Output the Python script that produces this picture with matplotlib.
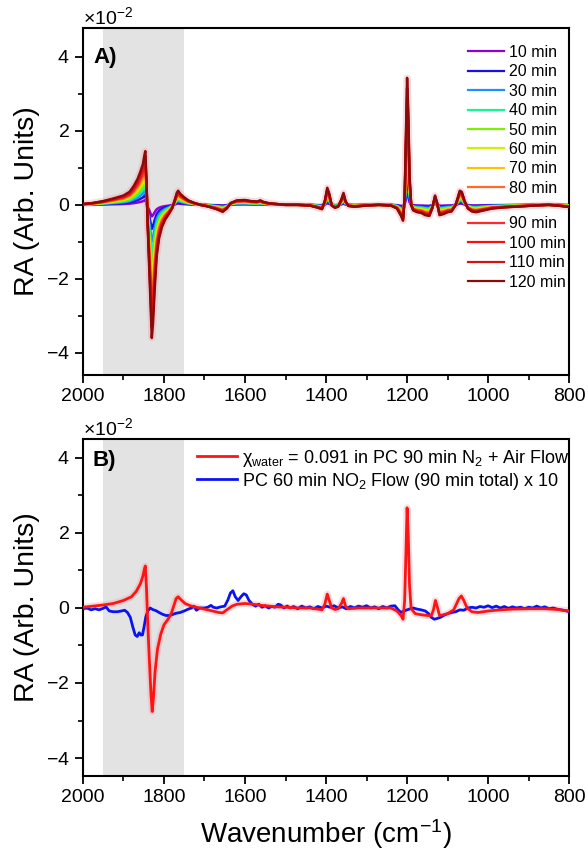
import numpy as np
import matplotlib
matplotlib.use("Agg")
import matplotlib.pyplot as plt
from matplotlib.ticker import MultipleLocator, ScalarFormatter
from matplotlib.lines import Line2D

plt.rcParams['font.family'] = ['Liberation Sans', 'DejaVu Sans']
plt.rcParams['mathtext.fontset'] = 'custom'
plt.rcParams['mathtext.rm'] = 'Liberation Sans'
plt.rcParams['mathtext.it'] = 'Liberation Sans:italic'
plt.rcParams['mathtext.bf'] = 'Liberation Sans:bold'

# ---- panel A: 120 min spectrum (values x10^-2) ----
wn_a = [2000, 1975, 1950, 1925, 1900, 1885, 1875, 1865, 1858, 1852, 1848, 1846, 1843, 1840,
        1836, 1832, 1830, 1827, 1823, 1818, 1812, 1805, 1797, 1788, 1780, 1774, 1768, 1765,
        1760, 1752, 1740, 1725, 1710, 1690, 1670, 1655, 1645, 1635, 1620, 1600, 1585, 1570,
        1562, 1555, 1540, 1520, 1500, 1470, 1440, 1420, 1410, 1403, 1397, 1392, 1386, 1378,
        1370, 1362, 1357, 1352, 1345, 1330, 1300, 1270, 1240, 1225, 1215, 1210, 1206, 1203,
        1200, 1197, 1194, 1190, 1185, 1175, 1165, 1155, 1145, 1138, 1131, 1126, 1120, 1110,
        1100, 1090, 1080, 1070, 1065, 1058, 1050, 1040, 1030, 1010, 990, 960, 930, 900, 870,
        850, 830, 815, 800]
ra_120 = [0.02, 0.05, 0.1, 0.17, 0.25, 0.35, 0.5, 0.7, 0.9, 1.1, 1.35, 1.45, 0.6, -0.6,
          -1.8, -3.0, -3.6, -3.2, -2.3, -1.4, -0.9, -0.6, -0.4, -0.25, -0.1, 0.1, 0.33, 0.38,
          0.3, 0.22, 0.12, 0.05, 0.0, -0.05, -0.12, -0.19, -0.1, 0.05, 0.12, 0.13, 0.1, 0.09,
          0.12, 0.08, 0.04, 0.02, 0.0, 0.0, -0.02, -0.08, -0.12, 0.1, 0.46, 0.3, -0.02, -0.08,
          -0.05, 0.15, 0.32, 0.1, -0.03, -0.05, -0.02, 0.0, -0.02, -0.1, -0.3, -0.43, 0.2, 1.8,
          3.43, 2.5, 0.8, 0.0, -0.15, -0.2, -0.22, -0.28, -0.3, -0.1, 0.25, 0.05, -0.28, -0.25,
          -0.2, -0.18, 0.0, 0.38, 0.35, 0.1, -0.1, -0.18, -0.2, -0.15, -0.1, -0.07, -0.05, -0.03, -0.01,
          0.0, -0.02, -0.04, -0.06]

times = ['10 min', '20 min', '30 min', '40 min', '50 min', '60 min',
         '70 min', '80 min', '90 min', '100 min', '110 min', '120 min']
# height of the 1200 cm-1 band for each time (x10^-2)
peak_1200 = [0.30, 0.62, 0.95, 1.25, 1.55, 1.85, 2.10, 2.40, 2.65, 2.90, 3.15, 3.43]
colors = ['#8f00d8', '#1a10e6', '#1e90ff', '#14f59a', '#7cf000', '#d4ef00',
          '#ffc400', '#ff6a28', '#ff2a2a', '#ff0c0c', '#d21414', '#8b0a0a']

# ---- panel B (values x10^-2) ----
wn_red = [2000, 1975, 1950, 1925, 1900, 1880, 1868, 1858, 1852, 1848, 1846, 1843, 1840, 1836,
          1832, 1829, 1826, 1822, 1816, 1808, 1800, 1790, 1782, 1776, 1770, 1765, 1758, 1748,
          1735, 1720, 1700, 1680, 1665, 1655, 1645, 1632, 1620, 1600, 1580, 1560, 1540, 1520,
          1500, 1470, 1440, 1420, 1410, 1403, 1397, 1392, 1386, 1378, 1370, 1362, 1357, 1352,
          1345, 1320, 1290, 1260, 1240, 1225, 1215, 1210, 1206, 1203, 1200, 1197, 1194, 1190,
          1180, 1165, 1150, 1140, 1135, 1130, 1126, 1120, 1110, 1100, 1085, 1072, 1066, 1060,
          1052, 1040, 1025, 1000, 970, 940, 900, 860, 830, 800]
ra_red = [0.02, 0.05, 0.08, 0.12, 0.2, 0.3, 0.45, 0.65, 0.85, 1.05, 1.12, 0.5, -0.4, -1.4,
          -2.3, -2.76, -2.4, -1.7, -1.1, -0.7, -0.45, -0.3, -0.15, 0.05, 0.25, 0.3, 0.22, 0.12,
          0.06, 0.02, -0.03, -0.08, -0.12, -0.13, -0.05, 0.05, 0.1, 0.12, 0.1, 0.07, 0.05, 0.03,
          0.02, 0.0, 0.0, -0.03, -0.05, 0.1, 0.37, 0.2, 0.0, -0.04, -0.02, 0.12, 0.25, 0.05,
          -0.02, 0.0, 0.0, 0.0, 0.0, -0.08, -0.2, -0.3, 0.2, 1.4, 2.67, 1.9, 0.6, -0.02,
          -0.15, -0.18, -0.2, -0.2, -0.05, 0.2, 0.05, -0.2, -0.18, -0.15, -0.05, 0.25, 0.32, 0.2,
          0.0, -0.1, -0.12, -0.08, -0.05, -0.03, -0.02, -0.02, -0.04, -0.08]

wn_blue = [2000, 1990, 1980, 1970, 1960, 1950, 1943, 1935, 1925, 1915, 1905, 1897, 1890, 1883,
           1877, 1871, 1866, 1861, 1857, 1853, 1849, 1845, 1840, 1834, 1828, 1820, 1812, 1803,
           1795, 1787, 1778, 1770, 1760, 1750, 1740, 1732, 1726, 1720, 1712, 1700, 1692, 1684,
           1678, 1670, 1660, 1650, 1642, 1636, 1630, 1624, 1617, 1610, 1603, 1597, 1590, 1582,
           1574, 1566, 1558, 1550, 1542, 1534, 1526, 1518, 1512, 1504, 1496, 1488, 1480, 1470,
           1460, 1450, 1440, 1430, 1420, 1410, 1400, 1390, 1380, 1370, 1360, 1350, 1340, 1330,
           1320, 1310, 1300, 1290, 1280, 1270, 1260, 1250, 1240, 1230, 1222, 1215, 1208, 1200,
           1192, 1185, 1175, 1165, 1155, 1147, 1140, 1133, 1126, 1118, 1110, 1100, 1090, 1080,
           1070, 1060, 1050, 1040, 1030, 1020, 1010, 1000, 990, 980, 970, 960, 950, 940, 930,
           920, 910, 900, 890, 880, 870, 860, 850, 840, 830, 820, 810, 800]
ra_blue = [-0.02, 0.0, -0.05, -0.02, -0.05, -0.01, 0.03, -0.08, -0.1, -0.1, -0.08, -0.06, -0.12, -0.25,
           -0.5, -0.72, -0.76, -0.66, -0.72, -0.72, -0.5, -0.25, -0.08, 0.0, -0.04, -0.07, -0.12, -0.17,
           -0.2, -0.2, -0.17, -0.14, -0.12, -0.08, -0.03, 0.0, 0.05, -0.06, 0.0, 0.0, 0.02, 0.07,
           0.02, 0.0, 0.03, 0.05, 0.22, 0.4, 0.46, 0.3, 0.2, 0.3, 0.38, 0.35, 0.2, 0.1,
           0.05, 0.1, 0.02, 0.06, 0.0, 0.04, 0.02, 0.1, 0.08, 0.0, 0.05, 0.0, 0.04, -0.02,
           0.05, 0.0, 0.03, -0.02, 0.04, 0.0, 0.05, 0.02, 0.06, 0.0, 0.03, -0.02, 0.04, 0.0,
           0.05, 0.02, 0.06, 0.0, 0.03, -0.02, 0.04, 0.0, 0.05, 0.06, -0.05, -0.12, -0.08, -0.05,
           -0.02, 0.0, -0.03, -0.05, -0.08, -0.15, -0.25, -0.3, -0.28, -0.25, -0.2, -0.15, -0.12, -0.1,
           -0.05, -0.06, 0.0, 0.02, 0.0, 0.04, 0.02, 0.06, 0.01, 0.05, 0.0, 0.04, -0.01, 0.03, 0.0,
           0.02, -0.02, 0.02, 0.0, 0.05, 0.0, 0.03, -0.02, 0.0, -0.03, -0.05, -0.07, -0.1]

label_red = r'χ$_{\mathrm{water}}$ = 0.091 in PC 90 min N$_{2}$ + Air Flow'
label_blue = r'PC 60 min NO$_{2}$ Flow (90 min total) x 10'

shade = (1950, 1750)
scale = 1e-2

fig = plt.figure(figsize=(5.88, 8.57), dpi=100)
ax1 = fig.add_axes([0.141, 0.5624, 0.827, 0.405])
ax2 = fig.add_axes([0.141, 0.0945, 0.827, 0.393])


def style_axis(ax, ylim):
    ax.axvspan(shade[0], shade[1], color='#e3e3e3', lw=0, zorder=0)
    ax.set_xlim(2000, 800)
    ax.set_ylim(ylim[0] * scale, ylim[1] * scale)
    ax.xaxis.set_major_locator(MultipleLocator(200))
    ax.xaxis.set_minor_locator(MultipleLocator(100))
    ax.yaxis.set_major_locator(MultipleLocator(2 * scale))
    ax.yaxis.set_minor_locator(MultipleLocator(1 * scale))
    fmt = ScalarFormatter(useMathText=True)
    fmt.set_powerlimits((0, 0))
    ax.yaxis.set_major_formatter(fmt)
    ax.yaxis.get_offset_text().set_fontsize(14)
    ax.tick_params(which='major', direction='out', length=6, width=1.3, labelsize=14)
    ax.tick_params(which='minor', direction='out', length=3.5, width=1.2)
    for s in ax.spines.values():
        s.set_linewidth(1.5)
    ax.set_ylabel('RA (Arb. Units)', fontsize=20.5, labelpad=4)


# panel A
wn_a_arr = np.array(wn_a)
base = np.array(ra_120)
handles = []
for lab, pk, c in zip(times, peak_1200, colors):
    y = base * pk / peak_1200[-1] * scale
    if lab == '120 min':
        ax1.plot(wn_a_arr, y, color='#f2a0a8', lw=5, alpha=0.35, zorder=2)
    ax1.plot(wn_a_arr, y, color=c, lw=1.8, zorder=3)
    handles.append(Line2D([], [], color=c, lw=1.6, label=lab))

style_axis(ax1, (-4.6, 4.78))
ax1.text(0.022, 0.915, 'A)', transform=ax1.transAxes, fontsize=16, fontweight='bold',
         va='center', ha='left')

leg_kw = dict(loc='upper left', frameon=False, fontsize=11.5, handlelength=2.25,
              handletextpad=0.3, labelspacing=0.275, borderpad=0, borderaxespad=0)
leg1 = ax1.legend(handles=handles[:8], bbox_to_anchor=(0.792, 0.951), **leg_kw)
ax1.add_artist(leg1)
ax1.legend(handles=handles[8:], bbox_to_anchor=(0.792, 0.457), **leg_kw)

# panel B
ax2.plot(wn_blue, np.array(ra_blue) * scale, color='#0a14f0', lw=2, zorder=3, label=label_blue)
ax2.plot(wn_red, np.array(ra_red) * scale, color='#f2a0a8', lw=5, alpha=0.35, zorder=2)
ax2.plot(wn_red, np.array(ra_red) * scale, color='#ff1414', lw=2, zorder=4, label=label_red)
style_axis(ax2, (-4.48, 4.5))
ax2.set_xlabel('Wavenumber (cm$^{-1}$)', fontsize=20, labelpad=8)
ax2.text(0.02, 0.938, 'B)', transform=ax2.transAxes, fontsize=16, fontweight='bold',
         va='center', ha='left')
h, l = ax2.get_legend_handles_labels()
ax2.legend(h[::-1], l[::-1], loc='upper left', bbox_to_anchor=(0.2346, 0.975),
           frameon=False, fontsize=13, handlelength=2.2, handletextpad=0.3,
           labelspacing=0.12, borderpad=0, borderaxespad=0)

fig.savefig('out.png', dpi=100)
